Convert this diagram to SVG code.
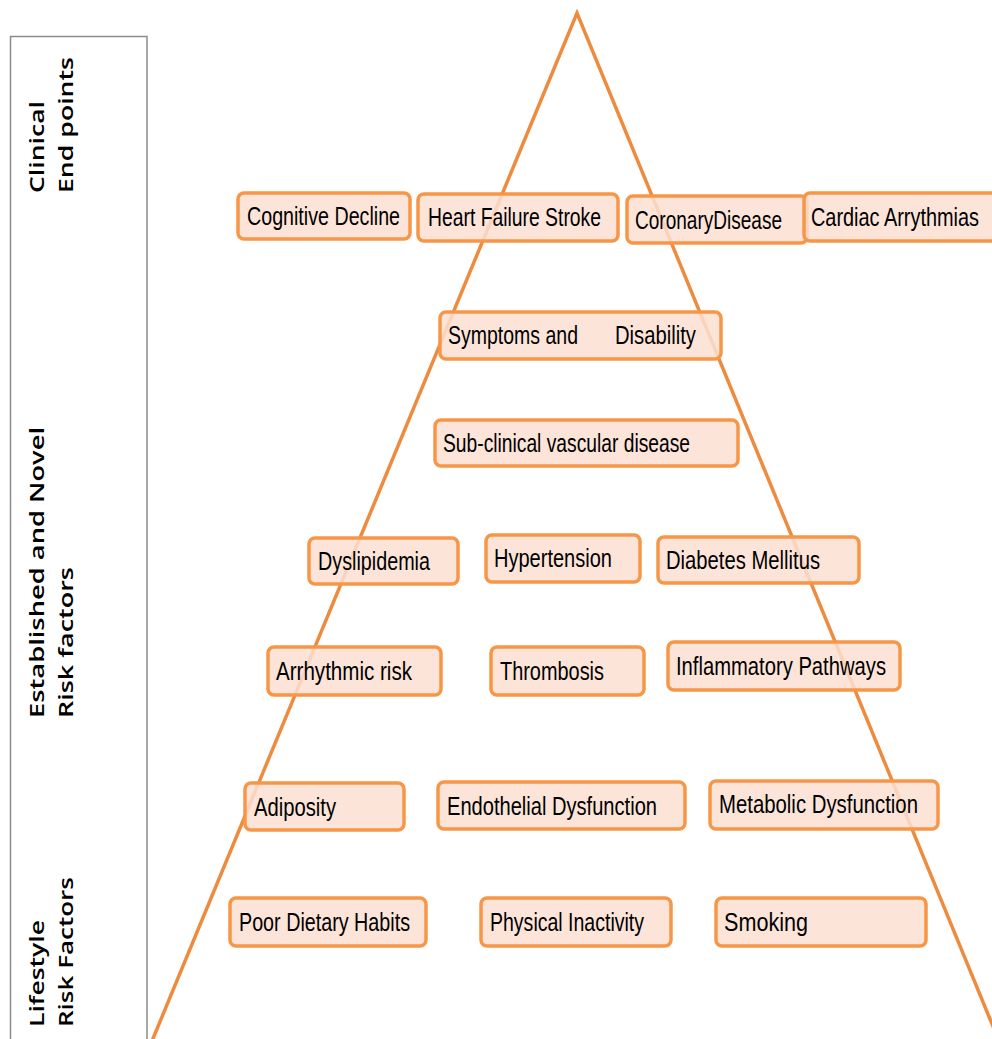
<svg xmlns="http://www.w3.org/2000/svg" width="992" height="1039" viewBox="0 0 992 1039">
<style>
.box{fill:#fbdfd2;fill-opacity:0.85;stroke:#f79646;stroke-width:3.5}
.t{font-family:"Liberation Sans",Arial,sans-serif;font-size:25px;fill:#000}
.side{font-family:"Open Sans","DejaVu Sans",sans-serif;font-size:20px;font-weight:600;fill:#000}
.tri{fill:none;stroke:#ed8b3f;stroke-width:3.5;stroke-linejoin:miter}
</style>
<rect width="992" height="1039" fill="#fff"/>
<g id="side-panel">
<path d="M10.5,1039 V36.5 H147 V1039" fill="none" stroke="#8c8c8c" stroke-width="1.5"/>
<text class="side" transform="translate(44,193) rotate(-90)" textLength="92" lengthAdjust="spacingAndGlyphs">Clinical</text>
<text class="side" transform="translate(73,193) rotate(-90)" textLength="136" lengthAdjust="spacingAndGlyphs">End points</text>
<text class="side" transform="translate(44,718) rotate(-90)" textLength="291" lengthAdjust="spacingAndGlyphs">Established and Novel</text>
<text class="side" transform="translate(73,718) rotate(-90)" textLength="151" lengthAdjust="spacingAndGlyphs">Risk factors</text>
<text class="side" transform="translate(44,1027) rotate(-90)" textLength="107" lengthAdjust="spacingAndGlyphs">Lifestyle</text>
<text class="side" transform="translate(73,1027) rotate(-90)" textLength="150" lengthAdjust="spacingAndGlyphs">Risk Factors</text>
</g>
<g id="connectors">
<path class="tri" d="M152,1041 L577,13 L999,1041"/>
</g>
<g id="cognitive-decline"><rect class="box" x="238" y="193" width="172" height="46" rx="6"/><text class="t" x="247" y="225" textLength="153" lengthAdjust="spacingAndGlyphs">Cognitive Decline</text></g>
<g id="heart-failure-stroke"><rect class="box" x="418" y="194" width="200" height="47" rx="6"/><text class="t" x="428" y="226" textLength="173" lengthAdjust="spacingAndGlyphs">Heart Failure Stroke</text></g>
<g id="coronary-disease"><rect class="box" x="627" y="196" width="180" height="47" rx="6"/><text class="t" x="635" y="229" textLength="147" lengthAdjust="spacingAndGlyphs">CoronaryDisease</text></g>
<g id="cardiac-arrythmias"><rect class="box" x="804" y="193" width="196" height="48" rx="6"/><text class="t" x="811" y="226" textLength="168" lengthAdjust="spacingAndGlyphs">Cardiac Arrythmias</text></g>
<g id="symptoms-disability"><rect class="box" x="440" y="312" width="281" height="47" rx="6"/><text class="t" x="448" y="344" textLength="130" lengthAdjust="spacingAndGlyphs">Symptoms and</text><text class="t" x="615" y="344" textLength="81" lengthAdjust="spacingAndGlyphs">Disability</text></g>
<g id="subclinical"><rect class="box" x="435" y="420" width="303" height="46" rx="6"/><text class="t" x="443" y="452" textLength="247" lengthAdjust="spacingAndGlyphs">Sub-clinical vascular disease</text></g>
<g id="dyslipidemia"><rect class="box" x="309" y="538" width="149" height="46" rx="6"/><text class="t" x="318" y="570" textLength="112" lengthAdjust="spacingAndGlyphs">Dyslipidemia</text></g>
<g id="hypertension"><rect class="box" x="486" y="535" width="154" height="47" rx="6"/><text class="t" x="494" y="567" textLength="118" lengthAdjust="spacingAndGlyphs">Hypertension</text></g>
<g id="diabetes"><rect class="box" x="658" y="537" width="201" height="46" rx="6"/><text class="t" x="666" y="569" textLength="154" lengthAdjust="spacingAndGlyphs">Diabetes Mellitus</text></g>
<g id="arrhythmic-risk"><rect class="box" x="268" y="647" width="173" height="48" rx="6"/><text class="t" x="276" y="680" textLength="136" lengthAdjust="spacingAndGlyphs">Arrhythmic risk</text></g>
<g id="thrombosis"><rect class="box" x="491" y="647" width="153" height="48" rx="6"/><text class="t" x="500" y="680" textLength="104" lengthAdjust="spacingAndGlyphs">Thrombosis</text></g>
<g id="inflammatory"><rect class="box" x="668" y="642" width="232" height="48" rx="6"/><text class="t" x="676" y="675" textLength="210" lengthAdjust="spacingAndGlyphs">Inflammatory Pathways</text></g>
<g id="adiposity"><rect class="box" x="245" y="783" width="159" height="47" rx="6"/><text class="t" x="254" y="816" textLength="82" lengthAdjust="spacingAndGlyphs">Adiposity</text></g>
<g id="endothelial"><rect class="box" x="438" y="782" width="247" height="47" rx="6"/><text class="t" x="447" y="815" textLength="210" lengthAdjust="spacingAndGlyphs">Endothelial Dysfunction</text></g>
<g id="metabolic"><rect class="box" x="710" y="781" width="228" height="48" rx="6"/><text class="t" x="719" y="813" textLength="199" lengthAdjust="spacingAndGlyphs">Metabolic Dysfunction</text></g>
<g id="poor-diet"><rect class="box" x="230" y="898" width="196" height="48" rx="6"/><text class="t" x="239" y="931" textLength="171" lengthAdjust="spacingAndGlyphs">Poor Dietary Habits</text></g>
<g id="physical-inactivity"><rect class="box" x="481" y="898" width="190" height="48" rx="6"/><text class="t" x="490" y="931" textLength="154" lengthAdjust="spacingAndGlyphs">Physical Inactivity</text></g>
<g id="smoking"><rect class="box" x="716" y="898" width="210" height="48" rx="6"/><text class="t" x="724" y="931" textLength="84" lengthAdjust="spacingAndGlyphs">Smoking</text></g>
</svg>
